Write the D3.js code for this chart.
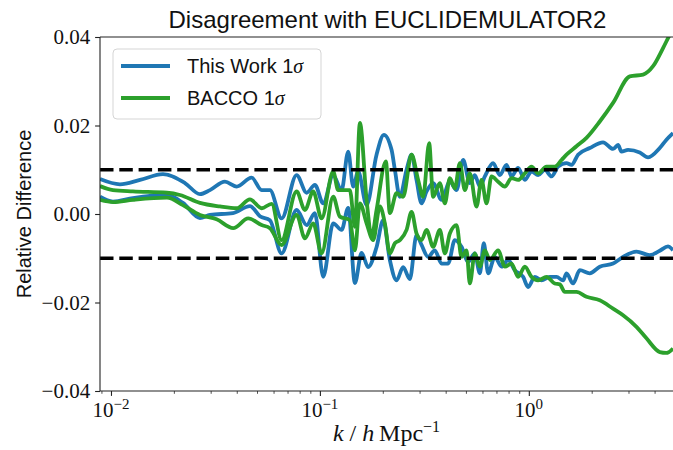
<!DOCTYPE html>
<html>
<head>
<meta charset="utf-8">
<script src="https://cdn.jsdelivr.net/npm/d3@7"></script>
<style>
  body { margin: 0; background: #fff; }
  svg { display: block; }
</style>
</head>
<body>
<div id="chart"></div>
<script>
// ---- data ([k, relative difference]) ----
const blueUpper = [[0.00886,0.0079],[0.01104,0.0067],[0.01377,0.0077],[0.01774,0.0090],[0.0226,0.0070],[0.02666,0.0045],[0.02977,0.0054],[0.03512,0.0073],[0.03995,0.0062],[0.04713,0.0082],[0.05262,0.0054],[0.05765,0.0054],[0.06556,-0.0010],[0.07737,0.0088],[0.08641,0.0048],[0.09465,0.0066],[0.1037,0.0024],[0.1158,0.0088],[0.1270,0.0054],[0.1366,0.0141],[0.1443,0.0062],[0.1525,0.0096],[0.1673,0.0020],[0.1867,0.0134],[0.2024,0.0179],[0.2203,0.0145],[0.2285,0.0100],[0.2414,0.0039],[0.2599,0.0100],[0.2747,0.0134],[0.2901,0.0077],[0.3066,0.0024],[0.3240,0.0051],[0.3484,0.0070],[0.3822,0.0032],[0.4188,0.0073],[0.4510,0.0054],[0.4849,0.0122],[0.5221,0.0070],[0.5515,0.0088],[0.5830,0.0062],[0.6160,0.0085],[0.6747,0.0115],[0.7264,0.0088],[0.7823,0.0111],[0.8265,0.0085],[0.8889,0.0104],[0.9570,0.0077],[1.030,0.0096],[1.108,0.0088],[1.193,0.0100],[1.284,0.0085],[1.381,0.0107],[1.515,0.0115],[1.601,0.0111],[1.721,0.0134],[1.958,0.0149],[2.267,0.0162],[2.531,0.0147],[2.675,0.0156],[2.777,0.0141],[2.986,0.0145],[3.397,0.0139],[3.722,0.0128],[4.235,0.0149],[4.559,0.0168],[4.90,0.0183]];

const blueLower = [[0.00886,0.0039],[0.01022,0.0028],[0.01274,0.0036],[0.01853,0.0043],[0.02210,0.0025],[0.02666,-0.0009],[0.02977,-0.0002],[0.03834,0.0002],[0.04626,0.0018],[0.05164,-0.0005],[0.05765,-0.0014],[0.06556,-0.0089],[0.07737,0.0009],[0.08641,-0.0025],[0.09465,0.0002],[0.1037,-0.0142],[0.1158,-0.0021],[0.1270,-0.0036],[0.1366,0.0014],[0.1471,-0.0156],[0.1583,-0.0088],[0.1702,-0.0120],[0.1867,-0.0075],[0.2009,-0.0014],[0.2162,-0.0104],[0.2328,-0.0150],[0.2503,-0.0120],[0.2695,-0.0147],[0.2901,-0.0048],[0.3066,-0.0070],[0.3298,-0.0097],[0.3549,-0.0082],[0.3822,-0.0112],[0.4111,-0.0112],[0.4425,-0.0059],[0.4764,-0.0074],[0.5124,-0.0108],[0.5515,-0.0089],[0.5830,-0.0134],[0.6090,-0.0066],[0.6387,-0.0134],[0.6876,-0.0097],[0.7404,-0.0119],[0.7962,-0.0104],[0.8570,-0.0127],[0.9391,-0.0142],[0.9924,-0.0165],[1.068,-0.0142],[1.150,-0.0150],[1.260,-0.0142],[1.357,-0.0142],[1.459,-0.0150],[1.515,-0.0134],[1.629,-0.0157],[1.754,-0.0127],[1.958,-0.0134],[2.186,-0.0119],[2.531,-0.0112],[2.827,-0.0097],[3.276,-0.0085],[3.793,-0.0093],[4.235,-0.0083],[4.640,-0.0073],[4.90,-0.0082]];

const greenUpper = [[0.00886,0.0063],[0.01022,0.0054],[0.01274,0.0051],[0.01853,0.0048],[0.02138,0.0043],[0.02666,0.0025],[0.03323,0.0017],[0.03995,0.0013],[0.04626,0.0033],[0.05262,0.0013],[0.05874,0.0023],[0.06556,-0.0059],[0.07737,0.0051],[0.08479,0.0009],[0.09288,0.0051],[0.1019,-0.0010],[0.1158,0.0096],[0.1223,0.0054],[0.1391,0.0054],[0.1471,-0.0029],[0.1554,0.0206],[0.1673,0.0032],[0.1768,-0.0051],[0.1867,0.0009],[0.2069,0.0119],[0.2162,0.0002],[0.2328,0.0047],[0.2503,0.0039],[0.2747,0.0134],[0.2953,0.0077],[0.3121,0.0039],[0.3334,0.0160],[0.3484,0.0039],[0.3751,0.0070],[0.3965,0.0024],[0.4188,0.0081],[0.4425,0.0058],[0.4677,0.0115],[0.4941,0.0054],[0.5221,0.0092],[0.5620,0.0017],[0.5938,0.0077],[0.6274,0.0024],[0.6630,0.0085],[0.7131,0.0073],[0.7678,0.0062],[0.8265,0.0081],[0.8889,0.0077],[0.9570,0.0092],[1.030,0.0107],[1.108,0.0092],[1.215,0.0107],[1.331,0.0107],[1.434,0.0122],[1.515,0.0134],[1.691,0.0153],[1.888,0.0172],[2.186,0.0209],[2.531,0.0251],[3.043,0.0311],[3.524,0.0315],[3.933,0.0334],[4.391,0.0375],[4.692,0.0402],[4.90,0.0419]];

const greenLower = [[0.00886,0.0032],[0.01022,0.0027],[0.01274,0.0032],[0.01853,0.0037],[0.02210,0.0020],[0.02666,-0.0002],[0.03204,-0.0012],[0.03847,-0.0032],[0.04539,-0.0010],[0.05262,-0.0025],[0.05765,-0.0032],[0.06556,-0.0070],[0.07737,-0.0002],[0.08479,-0.0055],[0.09288,-0.0021],[0.1019,-0.0089],[0.1158,0.0039],[0.1246,-0.0006],[0.1391,-0.0014],[0.1471,-0.0082],[0.1554,0.0024],[0.1673,-0.0021],[0.1799,-0.0059],[0.1937,0.0017],[0.2046,-0.0021],[0.2162,-0.0089],[0.2285,-0.0066],[0.2414,-0.0059],[0.2599,-0.0036],[0.2747,0.0005],[0.2901,-0.0044],[0.3066,-0.0059],[0.3240,-0.0036],[0.3484,-0.0074],[0.3751,-0.0036],[0.3965,-0.0089],[0.4188,-0.0044],[0.4510,-0.0025],[0.4764,-0.0097],[0.5034,-0.0082],[0.5221,-0.0157],[0.5515,-0.0089],[0.5830,-0.0119],[0.6160,-0.0082],[0.6507,-0.0104],[0.7131,-0.0082],[0.7678,-0.0119],[0.8265,-0.0112],[0.8889,-0.0142],[0.9570,-0.0119],[1.030,-0.0142],[1.108,-0.0150],[1.215,-0.0142],[1.331,-0.0157],[1.407,-0.0159],[1.487,-0.0176],[1.691,-0.0176],[1.888,-0.0187],[2.186,-0.0195],[2.531,-0.0214],[2.827,-0.0229],[3.276,-0.0255],[3.658,-0.0281],[4.235,-0.0312],[4.559,-0.0314],[4.90,-0.0304]];

const thresholds = [0.01, -0.01];
const yTicks = [-0.04, -0.02, 0.00, 0.02, 0.04];
const xMajor = [0.01, 0.1, 1];
const xMajorExp = ["−2", "−1", "0"];
const legendLabels = ["This Work 1", "BACCO 1"];

const blue = "#1f77b4", green = "#2ca02c";
const W = 673, H = 450;
const plotLeft = 100, plotRight = 673, plotTop = 37, plotBottom = 391;

const svg = d3.select("#chart").append("svg")
    .attr("width", W).attr("height", H);

const x = d3.scaleLog().domain([0.00886, 4.9]).range([plotLeft, plotRight]);
const y = d3.scaleLinear().domain([-0.04, 0.04]).range([plotBottom, plotTop]);

// clip for the curves
svg.append("clipPath").attr("id", "plotclip")
    .append("rect").attr("x", plotLeft).attr("y", plotTop)
    .attr("width", plotRight - plotLeft).attr("height", plotBottom - plotTop);

const plot = svg.append("g").attr("clip-path", "url(#plotclip)");

const line = d3.line()
    .x(d => x(d[0]))
    .y(d => y(d[1]))
    .curve(d3.curveMonotoneX);

[[blueUpper, blue], [blueLower, blue], [greenUpper, green], [greenLower, green]].forEach(function(s) {
    plot.append("path")
        .datum(s[0])
        .attr("d", line)
        .attr("fill", "none")
        .attr("stroke", s[1])
        .attr("stroke-width", 3.8)
        .attr("stroke-linejoin", "round");
});

// dashed +-1% lines
plot.selectAll(".thr").data(thresholds).enter().append("line")
    .attr("x1", plotLeft).attr("x2", plotRight)
    .attr("y1", d => y(d)).attr("y2", d => y(d))
    .attr("stroke", "black")
    .attr("stroke-width", 3.6)
    .attr("stroke-dasharray", "13.5,5.8");

// x axis: major + minor ticks
const minor = x.ticks().filter(d => xMajor.indexOf(d) < 0 && d > x.domain()[0] && d < x.domain()[1]);
svg.append("g")
    .attr("transform", "translate(0," + plotBottom + ")")
    .call(d3.axisBottom(x).tickValues(xMajor).tickSize(4.9).tickFormat(""))
    .call(g => g.select(".domain").remove())
    .selectAll("line").attr("stroke", "#222").attr("stroke-width", 1.1);
svg.append("g")
    .attr("transform", "translate(0," + plotBottom + ")")
    .call(d3.axisBottom(x).tickValues(minor).tickSize(2.8).tickFormat(""))
    .call(g => g.select(".domain").remove())
    .selectAll("line").attr("stroke", "#222").attr("stroke-width", 0.8);

const xl = svg.append("g").selectAll("text").data(xMajor).enter().append("text")
    .attr("x", d => x(d))
    .attr("y", plotBottom + 26)
    .attr("text-anchor", "middle")
    .attr("font-family", "Liberation Serif, serif")
    .attr("font-size", 21)
    .attr("fill", "#111");
xl.append("tspan").text("10");
xl.append("tspan").attr("dy", -8).attr("font-size", 15).text((d, i) => xMajorExp[i]);

// y axis
svg.append("g")
    .attr("transform", "translate(" + plotLeft + ",0)")
    .call(d3.axisLeft(y).tickValues(yTicks).tickSize(4.9).tickPadding(4.9).tickFormat(d3.format(".2f")))
    .call(g => g.select(".domain").remove())
    .call(g => g.selectAll("line").attr("stroke", "#222").attr("stroke-width", 1.1))
    .call(g => g.selectAll("text")
        .attr("font-family", "Liberation Serif, serif")
        .attr("font-size", 21)
        .attr("fill", "#111"));

// spines
svg.append("line").attr("x1", plotLeft).attr("x2", plotLeft).attr("y1", plotTop).attr("y2", plotBottom)
    .attr("stroke", "#222").attr("stroke-width", 1.1);
svg.append("line").attr("x1", plotLeft).attr("x2", W).attr("y1", plotBottom).attr("y2", plotBottom)
    .attr("stroke", "#222").attr("stroke-width", 1.1);
svg.append("line").attr("x1", plotLeft).attr("x2", W).attr("y1", plotTop).attr("y2", plotTop)
    .attr("stroke", "#222").attr("stroke-width", 1.1);

// title
svg.append("text")
    .attr("x", (plotLeft + plotRight) / 2 + 1)
    .attr("y", 28)
    .attr("text-anchor", "middle")
    .attr("font-family", "Liberation Sans, Arial, sans-serif")
    .attr("font-size", 24)
    .attr("fill", "#111")
    .text("Disagreement with EUCLIDEMULATOR2");

// axis labels
svg.append("text")
    .attr("transform", "translate(31," + ((plotTop + plotBottom) / 2) + ") rotate(-90)")
    .attr("text-anchor", "middle")
    .attr("font-family", "Liberation Sans, Arial, sans-serif")
    .attr("font-size", 20)
    .attr("fill", "#111")
    .text("Relative Difference");

const xlab = svg.append("text")
    .attr("x", (plotLeft + plotRight) / 2)
    .attr("y", 441)
    .attr("text-anchor", "middle")
    .attr("font-family", "Liberation Serif, serif")
    .attr("font-size", 24)
    .attr("fill", "#111");
xlab.append("tspan").attr("font-style", "italic").text("k");
xlab.append("tspan").text(" / ");
xlab.append("tspan").attr("font-style", "italic").text("h");
xlab.append("tspan").text("\u2009Mpc");
xlab.append("tspan").attr("dy", -9).attr("font-size", 16).text("−1");

// legend
const lg = svg.append("g");
lg.append("rect")
    .attr("x", 113).attr("y", 49).attr("width", 208).attr("height", 70)
    .attr("rx", 4)
    .attr("fill", "white").attr("fill-opacity", 0.8)
    .attr("stroke", "#d5d5d5").attr("stroke-width", 1);
[blue, green].forEach(function(c, i) {
    const yy = 66 + i * 32;
    lg.append("line").attr("x1", 121).attr("x2", 170).attr("y1", yy).attr("y2", yy)
        .attr("stroke", c).attr("stroke-width", 3.8);
    const t = lg.append("text")
        .attr("x", 187).attr("y", yy + 7)
        .attr("font-family", "Liberation Sans, Arial, sans-serif")
        .attr("font-size", 20)
        .attr("fill", "#111");
    t.append("tspan").text(legendLabels[i]);
    t.append("tspan").attr("font-family", "Liberation Serif, serif").attr("font-style", "italic").text("σ");
});
</script>
</body>
</html>
